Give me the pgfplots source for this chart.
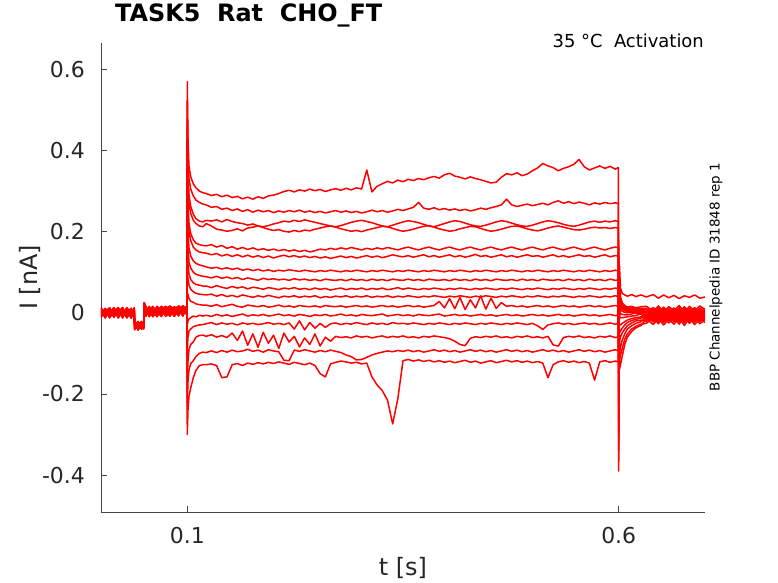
\documentclass[border=0pt]{standalone}
\usepackage{fontspec}
\setmainfont{DejaVu Sans}
\usepackage{pgfplots}
\usepackage{pgfplotstable}
\pgfplotsset{compat=1.18}
\definecolor{axgray}{RGB}{70,70,70}
\definecolor{txtgray}{RGB}{38,38,38}
\pgfplotstableread{
t A B C D E F G H I J K L M N O P
0.000 0.006 -0.005 0.010 -0.008 0.003 0.000 -0.011 0.008 -0.003 0.013 -0.006 0.005 -0.010 0.002 0.011 -0.003
0.005 -0.008 0.010 -0.003 0.006 -0.013 0.008 0.003 -0.006 0.011 -0.002 0.008 -0.011 0.005 -0.008 0.000 0.010
0.010 0.011 -0.003 0.005 -0.011 0.008 -0.006 0.013 0.002 -0.010 0.005 -0.013 0.010 0.000 0.011 -0.008 -0.005
0.015 -0.003 0.013 -0.010 0.003 -0.005 0.011 -0.008 0.010 0.005 -0.011 0.003 -0.002 0.013 -0.010 0.006 0.008
0.020 0.008 -0.011 0.002 0.013 0.006 -0.010 0.005 -0.013 0.000 0.008 0.011 -0.006 -0.005 0.006 -0.011 0.003
0.025 -0.010 0.005 0.013 -0.005 -0.011 0.003 -0.003 0.006 0.013 -0.008 -0.002 0.011 0.008 -0.013 0.005 -0.006
0.030 0.005 0.000 -0.008 0.010 0.011 -0.013 0.010 -0.002 -0.006 0.003 0.010 -0.010 -0.011 0.008 0.002 0.013
0.035 -0.006 0.011 0.006 -0.002 -0.003 0.006 -0.013 0.011 0.008 -0.013 -0.005 0.003 0.010 -0.003 -0.010 -0.002
0.0385 0.003 -0.008 0.000 0.008 0.010 -0.005 0.006 -0.008 -0.011 0.010 0.006 -0.008 -0.003 0.013 0.003 -0.010
0.0390 -0.026 -0.036 -0.022 -0.040 -0.030 -0.025 -0.038 -0.028 -0.042 -0.024 -0.032 -0.039 -0.021 -0.034 -0.041 -0.027
0.043 -0.039 -0.024 -0.042 -0.028 -0.021 -0.040 -0.027 -0.036 -0.025 -0.043 -0.023 -0.031 -0.038 -0.024 -0.033 -0.040
0.047 -0.025 -0.038 -0.030 -0.022 -0.041 -0.028 -0.039 -0.024 -0.035 -0.027 -0.040 -0.021 -0.029 -0.039 -0.024 -0.031
0.0495 -0.035 -0.027 -0.039 -0.031 -0.025 -0.036 -0.023 -0.040 -0.028 -0.037 -0.026 -0.036 -0.030 -0.027 -0.039 -0.025
0.0500 0.022 0.015 0.025 0.018 0.012 0.020 0.016 0.024 0.014 0.019 0.023 0.013 0.021 0.017 0.025 0.015
0.052 0.010 0.001 0.016 -0.008 0.007 0.013 -0.005 0.012 0.004 -0.009 0.015 0.003 0.009 -0.006 0.013 0.006
0.056 -0.006 0.013 0.004 0.010 -0.010 0.003 0.015 -0.008 0.012 0.007 -0.005 0.016 -0.009 0.010 0.000 -0.007
0.060 0.015 -0.008 0.009 0.000 0.012 -0.009 0.004 0.013 -0.006 0.016 0.006 -0.010 0.012 0.001 -0.008 0.013
0.065 0.001 0.012 -0.009 0.015 0.003 0.010 -0.010 0.006 0.016 -0.005 0.010 0.004 -0.006 0.015 0.009 -0.002
0.070 -0.009 0.006 0.013 -0.006 0.016 0.000 0.012 -0.008 0.007 0.013 -0.009 0.012 0.016 -0.008 0.006 0.010
0.075 0.012 -0.005 0.003 0.013 -0.008 0.015 0.001 0.010 -0.009 0.004 0.015 -0.005 0.007 0.012 -0.006 0.016
0.080 0.004 0.016 -0.008 0.007 0.010 -0.006 0.013 0.017 0.001 -0.008 0.009 0.015 -0.005 0.006 0.016 0.002
0.085 -0.005 0.007 0.015 -0.009 0.001 0.012 -0.006 0.007 0.015 0.010 -0.006 0.006 0.013 -0.009 0.009 0.012
0.090 0.016 0.000 0.006 0.012 -0.006 0.007 0.016 -0.005 0.004 0.017 0.012 -0.008 0.007 0.016 -0.005 0.004
0.095 0.007 0.013 -0.005 0.017 0.013 -0.008 0.006 0.015 -0.006 0.009 0.001 0.016 -0.008 0.010 0.017 -0.003
0.0995 0.012 0.002 0.018 0.001 0.008 0.016 -0.005 0.010 0.017 -0.002 0.014 0.006 0.018 0.002 0.011 0.015
0.1000 0.570 0.520 0.460 0.420 0.360 0.320 0.260 0.200 0.150 0.100 0.050 -0.030 -0.090 -0.160 -0.230 -0.300
0.1008 0.430 0.390 0.350 0.320 0.270 0.245 0.200 0.160 0.120 0.085 0.045 -0.020 -0.060 -0.120 -0.170 -0.240
0.102 0.360 0.330 0.290 0.270 0.220 0.200 0.160 0.125 0.095 0.068 0.035 -0.015 -0.045 -0.090 -0.140 -0.205
0.104 0.335 0.305 0.262 0.245 0.195 0.178 0.140 0.110 0.082 0.058 0.028 -0.012 -0.040 -0.078 -0.125 -0.185
0.107 0.318 0.288 0.243 0.228 0.180 0.162 0.128 0.100 0.074 0.052 0.026 -0.008 -0.034 -0.072 -0.118 -0.160
0.110 0.308 0.278 0.232 0.220 0.172 0.155 0.122 0.095 0.070 0.048 0.022 -0.010 -0.032 -0.060 -0.108 -0.142
0.114 0.300 0.272 0.226 0.214 0.168 0.150 0.118 0.092 0.068 0.046 0.020 -0.006 -0.030 -0.056 -0.100 -0.130
0.118 0.296 0.268 0.224 0.212 0.166 0.148 0.116 0.090 0.066 0.045 0.019 -0.008 -0.029 -0.055 -0.097 -0.128
0.122 0.294 0.266 0.228 0.220 0.165 0.147 0.113 0.089 0.066 0.044 0.019 -0.006 -0.027 -0.058 -0.098 -0.128
0.128 0.289 0.260 0.226 0.214 0.168 0.143 0.110 0.086 0.062 0.046 0.016 -0.009 -0.024 -0.054 -0.094 -0.126
0.134 0.292 0.262 0.229 0.206 0.162 0.146 0.112 0.090 0.067 0.041 0.020 -0.004 -0.029 -0.060 -0.098 -0.130
0.140 0.286 0.255 0.224 0.204 0.166 0.140 0.108 0.085 0.063 0.045 0.015 -0.008 -0.025 -0.056 -0.093 -0.160
0.146 0.290 0.258 0.230 0.201 0.159 0.144 0.111 0.088 0.060 0.040 0.018 -0.005 -0.028 -0.061 -0.097 -0.158
0.152 0.284 0.252 0.225 0.203 0.163 0.139 0.107 0.084 0.065 0.043 0.021 -0.009 -0.026 -0.050 -0.092 -0.128
0.158 0.287 0.256 0.222 0.207 0.157 0.143 0.110 0.087 0.061 0.039 0.016 -0.006 -0.030 -0.068 -0.096 -0.125
0.164 0.281 0.250 0.220 0.202 0.161 0.138 0.105 0.082 0.064 0.044 0.014 -0.003 -0.025 -0.045 -0.094 -0.130
0.170 0.285 0.254 0.216 0.209 0.156 0.142 0.108 0.086 0.059 0.041 0.019 -0.008 -0.028 -0.080 -0.090 -0.124
0.176 0.280 0.248 0.219 0.211 0.160 0.137 0.104 0.083 0.063 0.038 0.017 -0.005 -0.026 -0.052 -0.095 -0.127
0.182 0.286 0.253 0.214 0.214 0.155 0.141 0.107 0.080 0.061 0.042 0.015 -0.007 -0.029 -0.085 -0.092 -0.123
0.188 0.282 0.249 0.212 0.210 0.158 0.136 0.103 0.085 0.058 0.039 0.018 -0.004 -0.027 -0.048 -0.097 -0.126
0.194 0.288 0.252 0.215 0.206 0.154 0.140 0.106 0.082 0.062 0.043 0.014 -0.008 -0.024 -0.075 -0.091 -0.122
0.200 0.290 0.247 0.219 0.203 0.157 0.135 0.102 0.084 0.060 0.040 0.016 -0.006 -0.028 -0.055 -0.094 -0.125
0.206 0.294 0.251 0.222 0.205 0.153 0.139 0.105 0.081 0.057 0.037 0.019 -0.003 -0.026 -0.088 -0.096 -0.121
0.212 0.299 0.248 0.226 0.201 0.156 0.142 0.103 0.083 0.061 0.041 0.015 -0.007 -0.029 -0.050 -0.117 -0.124
0.218 0.302 0.252 0.224 0.199 0.152 0.138 0.106 0.080 0.059 0.039 0.017 -0.005 -0.025 -0.072 -0.118 -0.127
0.224 0.298 0.249 0.228 0.203 0.155 0.141 0.104 0.084 0.062 0.042 0.014 -0.008 -0.040 -0.058 -0.092 -0.122
0.230 0.303 0.253 0.225 0.200 0.151 0.137 0.102 0.081 0.058 0.038 0.018 -0.004 -0.020 -0.084 -0.095 -0.125
0.236 0.300 0.248 0.229 0.204 0.154 0.140 0.105 0.083 0.060 0.041 0.016 -0.006 -0.042 -0.062 -0.091 -0.128
0.242 0.305 0.251 0.226 0.202 0.150 0.136 0.103 0.080 0.057 0.039 0.015 -0.009 -0.024 -0.078 -0.094 -0.124
0.248 0.301 0.247 0.223 0.206 0.153 0.139 0.101 0.082 0.061 0.042 0.017 -0.005 -0.038 -0.052 -0.097 -0.130
0.254 0.304 0.250 0.220 0.209 0.157 0.135 0.104 0.079 0.058 0.037 0.014 -0.007 -0.026 -0.082 -0.093 -0.150
0.260 0.299 0.246 0.217 0.212 0.155 0.138 0.102 0.083 0.060 0.040 0.018 -0.004 -0.036 -0.060 -0.096 -0.158
0.266 0.303 0.249 0.214 0.214 0.159 0.134 0.105 0.081 0.056 0.038 0.016 -0.008 -0.027 -0.070 -0.092 -0.126
0.272 0.306 0.252 0.212 0.211 0.156 0.137 0.103 0.080 0.059 0.041 0.015 -0.006 -0.025 -0.058 -0.095 -0.122
0.278 0.302 0.248 0.215 0.207 0.160 0.140 0.101 0.082 0.061 0.039 0.017 -0.003 -0.029 -0.061 -0.098 -0.119
0.284 0.307 0.251 0.219 0.204 0.157 0.136 0.104 0.079 0.057 0.042 0.014 -0.007 -0.026 -0.059 -0.104 -0.121
0.290 0.303 0.247 0.223 0.201 0.161 0.139 0.102 0.083 0.060 0.038 0.016 -0.005 -0.028 -0.062 -0.108 -0.124
0.296 0.308 0.250 0.226 0.203 0.158 0.135 0.105 0.080 0.058 0.041 0.018 -0.008 -0.024 -0.057 -0.116 -0.122
0.302 0.305 0.246 0.228 0.200 0.155 0.138 0.103 0.082 0.061 0.039 0.015 -0.004 -0.027 -0.060 -0.115 -0.126
0.308 0.352 0.249 0.225 0.204 0.159 0.141 0.101 0.079 0.057 0.042 0.017 -0.006 -0.029 -0.058 -0.110 -0.124
0.314 0.298 0.253 0.222 0.207 0.156 0.137 0.104 0.083 0.060 0.038 0.014 -0.007 -0.025 -0.062 -0.104 -0.158
0.320 0.312 0.249 0.218 0.210 0.160 0.140 0.102 0.080 0.058 0.041 0.016 -0.005 -0.028 -0.059 -0.100 -0.178
0.326 0.318 0.252 0.214 0.213 0.157 0.136 0.105 0.082 0.061 0.039 0.018 -0.003 -0.026 -0.057 -0.097 -0.192
0.332 0.324 0.248 0.212 0.212 0.161 0.139 0.103 0.079 0.057 0.042 0.015 -0.008 -0.029 -0.061 -0.094 -0.215
0.338 0.320 0.251 0.216 0.208 0.158 0.143 0.101 0.083 0.059 0.038 0.017 -0.006 -0.024 -0.058 -0.096 -0.274
0.344 0.327 0.255 0.220 0.204 0.155 0.140 0.104 0.081 0.062 0.041 0.014 -0.004 -0.027 -0.060 -0.093 -0.212
0.350 0.323 0.252 0.224 0.201 0.159 0.138 0.102 0.080 0.058 0.039 0.016 -0.007 -0.026 -0.057 -0.095 -0.118
0.356 0.329 0.256 0.227 0.203 0.162 0.141 0.105 0.083 0.061 0.042 0.018 -0.005 -0.028 -0.061 -0.092 -0.115
0.362 0.326 0.260 0.225 0.206 0.158 0.137 0.103 0.080 0.059 0.040 0.015 -0.008 -0.025 -0.059 -0.096 -0.119
0.368 0.331 0.272 0.222 0.210 0.155 0.140 0.101 0.082 0.057 0.038 0.017 -0.004 -0.027 -0.062 -0.093 -0.116
0.374 0.328 0.258 0.218 0.213 0.159 0.143 0.104 0.079 0.060 0.041 0.014 -0.006 -0.029 -0.058 -0.097 -0.120
0.380 0.333 0.255 0.214 0.215 0.162 0.138 0.102 0.083 0.058 0.039 0.016 -0.007 -0.026 -0.060 -0.094 -0.117
0.386 0.336 0.259 0.212 0.211 0.158 0.141 0.105 0.081 0.061 0.042 0.018 -0.005 -0.028 -0.057 -0.091 -0.121
0.392 0.332 0.254 0.216 0.207 0.155 0.137 0.103 0.080 0.059 0.040 0.028 -0.003 -0.025 -0.059 -0.095 -0.118
0.398 0.340 0.257 0.220 0.204 0.159 0.140 0.101 0.082 0.057 0.038 0.012 -0.008 -0.027 -0.061 -0.092 -0.122
0.404 0.344 0.253 0.224 0.201 0.162 0.143 0.104 0.079 0.060 0.041 0.035 -0.006 -0.029 -0.064 -0.096 -0.119
0.410 0.337 0.256 0.227 0.203 0.158 0.138 0.102 0.083 0.058 0.039 0.010 -0.004 -0.026 -0.070 -0.093 -0.123
0.416 0.334 0.252 0.225 0.207 0.155 0.141 0.105 0.080 0.061 0.042 0.038 -0.007 -0.028 -0.078 -0.097 -0.120
0.422 0.330 0.255 0.221 0.210 0.159 0.137 0.103 0.082 0.059 0.040 0.008 -0.005 -0.025 -0.081 -0.094 -0.117
0.428 0.335 0.251 0.217 0.213 0.162 0.140 0.101 0.079 0.057 0.038 0.032 -0.008 -0.027 -0.063 -0.091 -0.122
0.434 0.331 0.254 0.214 0.212 0.158 0.144 0.104 0.083 0.060 0.041 0.012 -0.006 -0.029 -0.059 -0.095 -0.119
0.440 0.328 0.258 0.213 0.208 0.155 0.139 0.102 0.080 0.058 0.039 0.042 -0.004 -0.026 -0.061 -0.092 -0.124
0.446 0.324 0.255 0.216 0.204 0.159 0.141 0.105 0.082 0.061 0.042 0.009 -0.007 -0.028 -0.058 -0.096 -0.121
0.452 0.320 0.259 0.220 0.201 0.162 0.137 0.103 0.079 0.059 0.040 0.036 -0.005 -0.025 -0.060 -0.093 -0.118
0.458 0.322 0.262 0.224 0.203 0.158 0.140 0.101 0.083 0.057 0.038 0.011 -0.008 -0.027 -0.057 -0.097 -0.123
0.464 0.334 0.266 0.227 0.206 0.155 0.143 0.104 0.081 0.060 0.041 0.025 -0.006 -0.029 -0.061 -0.094 -0.120
0.470 0.343 0.280 0.225 0.210 0.159 0.138 0.102 0.080 0.058 0.039 0.016 -0.004 -0.026 -0.059 -0.091 -0.117
0.476 0.340 0.266 0.221 0.213 0.162 0.141 0.105 0.082 0.061 0.042 0.018 -0.007 -0.028 -0.062 -0.095 -0.121
0.482 0.345 0.262 0.217 0.214 0.158 0.137 0.103 0.079 0.059 0.040 0.015 -0.005 -0.025 -0.058 -0.092 -0.118
0.488 0.338 0.265 0.214 0.211 0.155 0.140 0.101 0.083 0.057 0.038 0.017 -0.008 -0.027 -0.060 -0.096 -0.122
0.494 0.342 0.268 0.213 0.207 0.159 0.143 0.104 0.080 0.060 0.041 0.014 -0.006 -0.029 -0.057 -0.093 -0.119
0.500 0.350 0.264 0.216 0.204 0.162 0.139 0.102 0.082 0.058 0.039 0.016 -0.004 -0.026 -0.061 -0.097 -0.123
0.506 0.357 0.267 0.220 0.202 0.158 0.141 0.105 0.079 0.061 0.042 0.018 -0.007 -0.032 -0.059 -0.094 -0.120
0.512 0.368 0.270 0.224 0.205 0.155 0.137 0.103 0.083 0.059 0.040 0.015 -0.005 -0.041 -0.062 -0.091 -0.124
0.518 0.362 0.266 0.227 0.209 0.159 0.140 0.101 0.081 0.057 0.038 0.017 -0.008 -0.030 -0.058 -0.095 -0.160
0.524 0.358 0.272 0.225 0.212 0.162 0.143 0.104 0.080 0.060 0.041 0.014 -0.006 -0.027 -0.079 -0.092 -0.128
0.530 0.350 0.276 0.222 0.214 0.158 0.138 0.102 0.082 0.058 0.039 0.016 -0.004 -0.025 -0.082 -0.096 -0.121
0.536 0.356 0.270 0.218 0.211 0.155 0.141 0.105 0.079 0.061 0.042 0.018 -0.007 -0.028 -0.061 -0.093 -0.118
0.542 0.360 0.274 0.215 0.208 0.159 0.137 0.103 0.083 0.059 0.040 0.015 -0.005 -0.026 -0.058 -0.097 -0.122
0.548 0.366 0.269 0.213 0.205 0.162 0.140 0.101 0.080 0.057 0.038 0.017 -0.008 -0.029 -0.060 -0.094 -0.119
0.554 0.378 0.273 0.216 0.204 0.158 0.143 0.104 0.082 0.060 0.041 0.014 -0.006 -0.027 -0.057 -0.091 -0.123
0.560 0.360 0.270 0.220 0.206 0.155 0.139 0.102 0.079 0.058 0.039 0.016 -0.004 -0.025 -0.061 -0.095 -0.120
0.566 0.352 0.266 0.224 0.209 0.159 0.141 0.105 0.083 0.061 0.042 0.018 -0.007 -0.028 -0.059 -0.092 -0.124
0.572 0.357 0.271 0.226 0.211 0.162 0.137 0.103 0.080 0.059 0.040 0.015 -0.005 -0.026 -0.062 -0.096 -0.166
0.578 0.362 0.268 0.223 0.209 0.158 0.140 0.101 0.082 0.057 0.038 0.017 -0.008 -0.029 -0.058 -0.093 -0.121
0.584 0.356 0.272 0.226 0.210 0.155 0.143 0.104 0.079 0.060 0.041 0.014 -0.006 -0.027 -0.060 -0.097 -0.118
0.590 0.361 0.269 0.224 0.208 0.159 0.138 0.102 0.083 0.058 0.039 0.016 -0.004 -0.025 -0.057 -0.094 -0.122
0.596 0.354 0.271 0.227 0.210 0.162 0.141 0.105 0.080 0.061 0.042 0.018 -0.007 -0.028 -0.061 -0.091 -0.119
0.5995 0.358 0.270 0.225 0.209 0.160 0.140 0.103 0.081 0.059 0.040 0.016 -0.006 -0.027 -0.059 -0.094 -0.121
0.6000 -0.390 -0.340 -0.300 -0.270 -0.225 -0.190 -0.150 -0.115 -0.085 -0.055 -0.025 0.020 0.060 0.100 0.140 0.180
0.6008 0.120 0.090 0.075 0.065 0.050 0.040 0.030 0.020 0.005 -0.010 -0.030 -0.050 -0.070 -0.100 -0.120 -0.140
0.602 0.062 0.040 0.035 0.030 0.025 0.020 0.015 0.008 -0.002 -0.012 -0.030 -0.045 -0.060 -0.085 -0.105 -0.128
0.604 0.048 0.025 0.022 0.019 0.016 0.013 0.009 0.004 -0.004 -0.012 -0.026 -0.038 -0.050 -0.068 -0.088 -0.108
0.607 0.044 0.018 0.015 0.013 0.011 0.008 0.005 0.001 -0.005 -0.011 -0.022 -0.030 -0.040 -0.052 -0.065 -0.078
0.610 0.041 0.014 0.012 0.010 0.008 0.006 0.003 0.000 -0.005 -0.010 -0.018 -0.024 -0.032 -0.040 -0.052 -0.060
0.615 0.045 0.016 0.009 0.013 0.005 0.008 0.001 0.004 -0.003 -0.008 -0.014 -0.019 -0.025 -0.032 -0.040 -0.046
0.620 0.040 0.012 0.013 0.007 0.009 0.002 0.005 -0.002 0.001 -0.007 -0.012 -0.016 -0.020 -0.026 -0.033 -0.037
0.626 0.044 0.015 0.008 0.011 0.004 0.007 0.000 0.003 -0.004 -0.002 -0.010 -0.013 -0.018 -0.022 -0.028 -0.031
0.632 0.039 0.016 0.002 0.011 -0.005 0.007 -0.009 0.003 -0.013 0.001 -0.017 -0.005 -0.021 -0.009 -0.026 -0.015
0.640 0.045 0.004 0.013 -0.003 0.009 -0.007 0.005 -0.011 0.001 -0.015 -0.003 -0.019 -0.007 -0.023 -0.012 -0.029
0.646 0.036 0.017 0.000 0.012 -0.004 0.008 -0.010 0.004 -0.014 0.000 -0.018 -0.004 -0.022 -0.008 -0.027 -0.014
0.652 0.044 0.003 0.014 -0.004 0.010 -0.008 0.006 -0.012 0.002 -0.016 -0.002 -0.020 -0.006 -0.024 -0.011 -0.030
0.658 0.037 0.015 0.001 0.010 -0.006 0.006 -0.008 0.002 -0.012 0.002 -0.016 -0.006 -0.020 -0.010 -0.025 -0.016
0.664 0.043 0.005 0.012 -0.002 0.008 -0.006 0.004 -0.010 0.000 -0.014 -0.004 -0.018 -0.008 -0.022 -0.013 -0.028
0.670 0.035 0.018 -0.001 0.013 -0.003 0.009 -0.011 0.005 -0.015 -0.001 -0.019 -0.003 -0.023 -0.007 -0.028 -0.013
0.676 0.042 0.002 0.015 -0.005 0.011 -0.009 0.007 -0.013 0.003 -0.017 -0.001 -0.021 -0.005 -0.025 -0.010 -0.031
0.682 0.038 0.016 0.002 0.011 -0.004 0.007 -0.009 0.003 -0.013 0.001 -0.017 -0.005 -0.021 -0.009 -0.026 -0.014
0.688 0.044 0.004 0.013 -0.003 0.009 -0.007 0.005 -0.011 0.001 -0.015 -0.003 -0.019 -0.007 -0.023 -0.012 -0.029
0.694 0.036 0.017 0.000 0.012 -0.005 0.008 -0.010 0.004 -0.014 0.000 -0.018 -0.004 -0.022 -0.008 -0.027 -0.015
0.700 0.039 0.008 0.010 0.002 0.006 -0.002 0.002 -0.006 -0.004 -0.010 -0.008 -0.014 -0.012 -0.018 -0.017 -0.024
}\traces

\begin{document}
\begin{tikzpicture}
\path[use as bounding box] (-101bp,-71bp) rectangle (677bp,512bp);
\begin{axis}[
  at={(0,0)}, anchor=south west,
  scale only axis, width=604bp, height=469bp,
  xmin=0, xmax=0.7, ymin=-0.491, ymax=0.665,
  axis x line*=bottom, axis y line*=left,
  axis line style={axgray, line width=0.7bp, -},
  xtick={0.1,0.6}, xticklabels={0.1,0.6},
  ytick={-0.4,-0.2,0,0.2,0.4,0.6},
  yticklabels={-0.4,-0.2,0,0.2,0.4,0.6},
  tick align=inside, major tick length=6bp,
  tick style={axgray, line width=0.7bp},
  ticklabel style={font=\fontsize{22}{26}\selectfont, text=txtgray},
  yticklabel style={inner sep=0pt, xshift=-16bp},
  xticklabel style={inner sep=0pt, yshift=-15bp},
  xlabel={t [s]}, ylabel={I [nA]},
  label style={font=\fontsize{24}{28}\selectfont, text=txtgray},
  xlabel style={at={(axis description cs:0.5,0)}, anchor=base, yshift=-63bp, inner sep=0pt},
  ylabel style={at={(axis description cs:0,0.5)}, anchor=center, yshift=71bp, inner sep=0pt},
  title={\textbf{TASK5\ \ Rat\ \ CHO\_FT}},
  title style={at={(axis description cs:0,1)}, anchor=base west, xshift=14bp, yshift=16bp, font=\fontsize{24}{28}\selectfont, inner sep=0pt},
]
\pgfplotsinvokeforeach{1,...,16}{
  \addplot[red, line width=1.5bp, line join=round] table[x index=0, y index=#1] {\traces};
}
\end{axis}
\node[anchor=base east, inner sep=0pt, font=\fontsize{18}{20}\selectfont] at (603bp,464bp) {35 °C\ \ Activation};
\node[rotate=90, anchor=center, inner sep=0pt, font=\fontsize{13.5}{15}\selectfont] at (615bp,235bp) {BBP Channelpedia ID 31848 rep 1};
\end{tikzpicture}
\end{document}
